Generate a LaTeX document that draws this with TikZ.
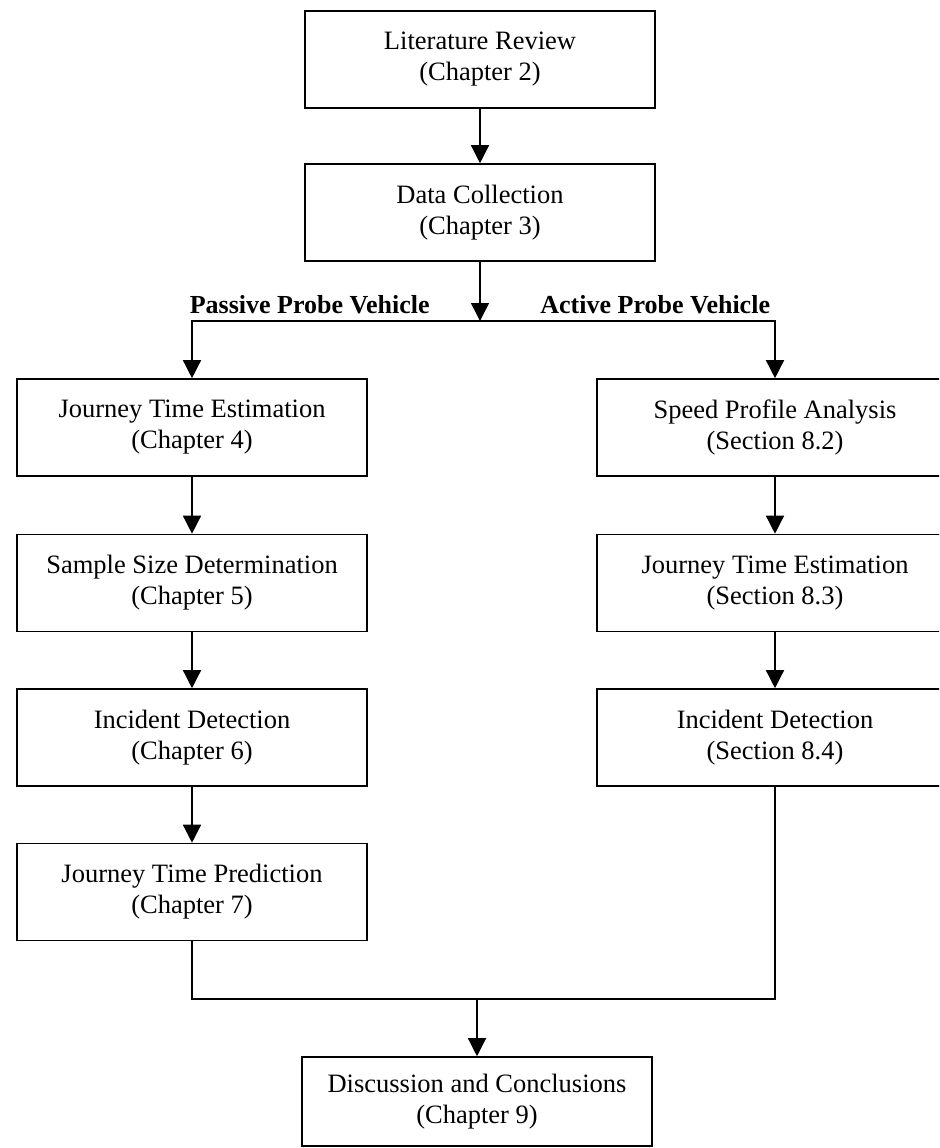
\documentclass[tikz,border=0pt]{standalone}
\usepackage{fontspec}
\setmainfont{Liberation Serif}
\usetikzlibrary{arrows.meta}
\begin{document}
\begin{tikzpicture}[x=0.5pt,y=-0.5pt,
  box/.style={draw=black, line width=0.8pt, rectangle, minimum width=175pt,
    minimum height=48.5pt, align=center, inner sep=0pt,
    font=\fontsize{13.25}{15.5}\selectfont},
  rbox/.style={box, minimum width=178pt},
  lab/.style={inner sep=0pt, font=\fontsize{13}{15}\selectfont\bfseries},
  conn/.style={line width=0.7pt},
  arr/.style={conn, -{Triangle[length=9pt,width=9pt]}}]
\useasboundingbox (0,0) rectangle (939,1148);
\clip (0,0) rectangle (939,1148);
\fill[white] (0,0) rectangle (939,1148);
% boxes
\node[box] (lr) at (480,59.5) {Literature Review\\(Chapter 2)};
\node[box] (dc) at (480,212.5) {Data Collection\\(Chapter 3)};
\node[box] (jte) at (192,427.5) {Journey Time Estimation\\(Chapter 4)};
\node[box] (ssd) at (192,583) {Sample Size Determination\\(Chapter 5)};
\node[box] (idl) at (192,737.5) {Incident Detection\\(Chapter 6)};
\node[box] (jtp) at (192,892) {Journey Time Prediction\\(Chapter 7)};
\node[rbox] (spa) at (775,427.5) {Speed Profile Analysis\\(Section 8.2)};
\node[rbox] (jtr) at (775,583) {Journey Time Estimation\\(Section 8.3)};
\node[rbox] (idr) at (775,737.5) {Incident Detection\\(Section 8.4)};
\node[box, minimum height=44.5pt] (dis) at (477,1101.5) {Discussion and Conclusions\\(Chapter 9)};
% branch labels
\node[lab, anchor=base east] (pl) at (430,313) {Passive Probe Vehicle};
\node[lab, anchor=base west] (al) at (540,313) {Active Probe Vehicle};
% junctions
\coordinate (J) at (480,321);
\coordinate (M) at (477,999);
% connectors
\draw[arr] (lr) -- (dc);
\draw[arr] (dc.south) -- (J);
\draw[arr] (J) -| (jte.north);
\draw[arr] (J) -| (spa.north);
\draw[arr] (jte) -- (ssd);
\draw[arr] (ssd) -- (idl);
\draw[arr] (idl) -- (jtp);
\draw[arr] (spa) -- (jtr);
\draw[arr] (jtr) -- (idr);
\draw[conn] (jtp.south) |- (M);
\draw[conn] (idr.south) |- (M);
\draw[arr] (M) -- (dis.north);
\end{tikzpicture}
\end{document}
